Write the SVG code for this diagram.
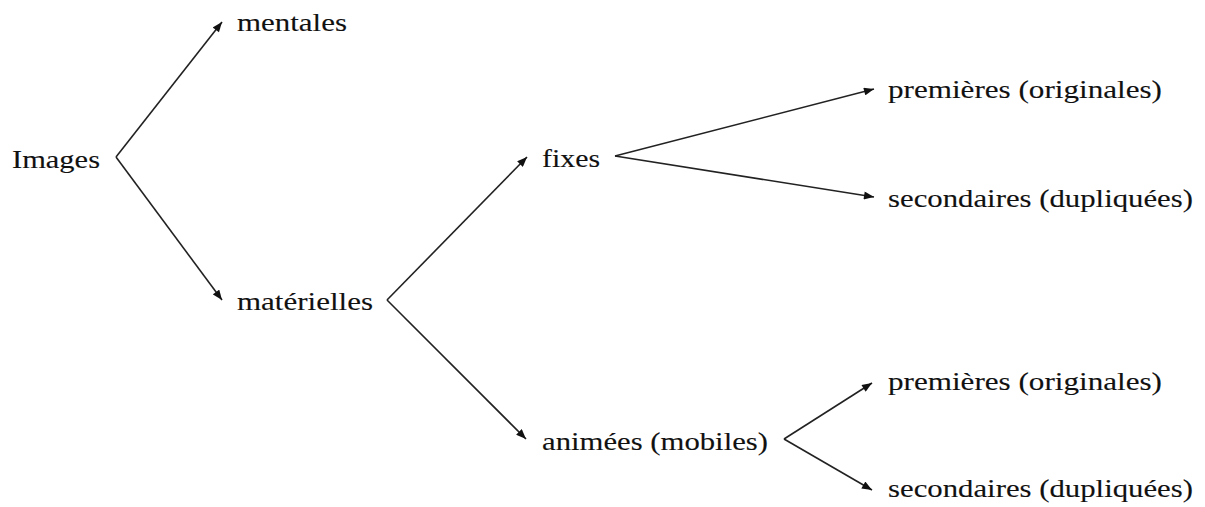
<svg xmlns="http://www.w3.org/2000/svg" width="1205" height="507" viewBox="0 0 1205 507">
<style>
.t{font-size:26px;fill:#111;stroke:#111;stroke-width:0.12}
.c{stroke:#222;stroke-width:1.6;fill:none;marker-end:url(#ah)}
</style>
<defs>
<marker id="ah" viewBox="0 0 10 8" refX="10" refY="4" markerWidth="11" markerHeight="8" markerUnits="userSpaceOnUse" orient="auto">
<path d="M0,0 L10,4 L0,8 Z" fill="#111"/>
</marker>
</defs>
<rect width="1205" height="507" fill="#fff"/>
<g id="connectors">
<polyline class="c" points="116,157 222,22"/>
<polyline class="c" points="116,157 222,300"/>
<polyline class="c" points="387,300 527,157"/>
<polyline class="c" points="387,300 526,439"/>
<polyline class="c" points="615,156 874,89"/>
<polyline class="c" points="615,156 874,197"/>
<polyline class="c" points="784,439 872,383"/>
<polyline class="c" points="784,439 872,490"/>
</g>
<g font-family="Liberation Serif, Times New Roman, Times, serif" class="t">
<g id="images"><text x="12" y="168" textLength="88" lengthAdjust="spacingAndGlyphs">Images</text></g>
<g id="mentales"><text x="237" y="31" textLength="110" lengthAdjust="spacingAndGlyphs">mentales</text></g>
<g id="materielles"><text x="237" y="310" textLength="136" lengthAdjust="spacingAndGlyphs">matérielles</text></g>
<g id="fixes"><text x="542" y="167" textLength="58" lengthAdjust="spacingAndGlyphs">fixes</text></g>
<g id="animees"><text x="542" y="450" textLength="226" lengthAdjust="spacingAndGlyphs">animées (mobiles)</text></g>
<g id="premieres1"><text x="888" y="98" textLength="274" lengthAdjust="spacingAndGlyphs">premières (originales)</text></g>
<g id="secondaires1"><text x="888" y="207" textLength="305" lengthAdjust="spacingAndGlyphs">secondaires (dupliquées)</text></g>
<g id="premieres2"><text x="888" y="390" textLength="274" lengthAdjust="spacingAndGlyphs">premières (originales)</text></g>
<g id="secondaires2"><text x="888" y="497" textLength="305" lengthAdjust="spacingAndGlyphs">secondaires (dupliquées)</text></g>
</g>
</svg>
